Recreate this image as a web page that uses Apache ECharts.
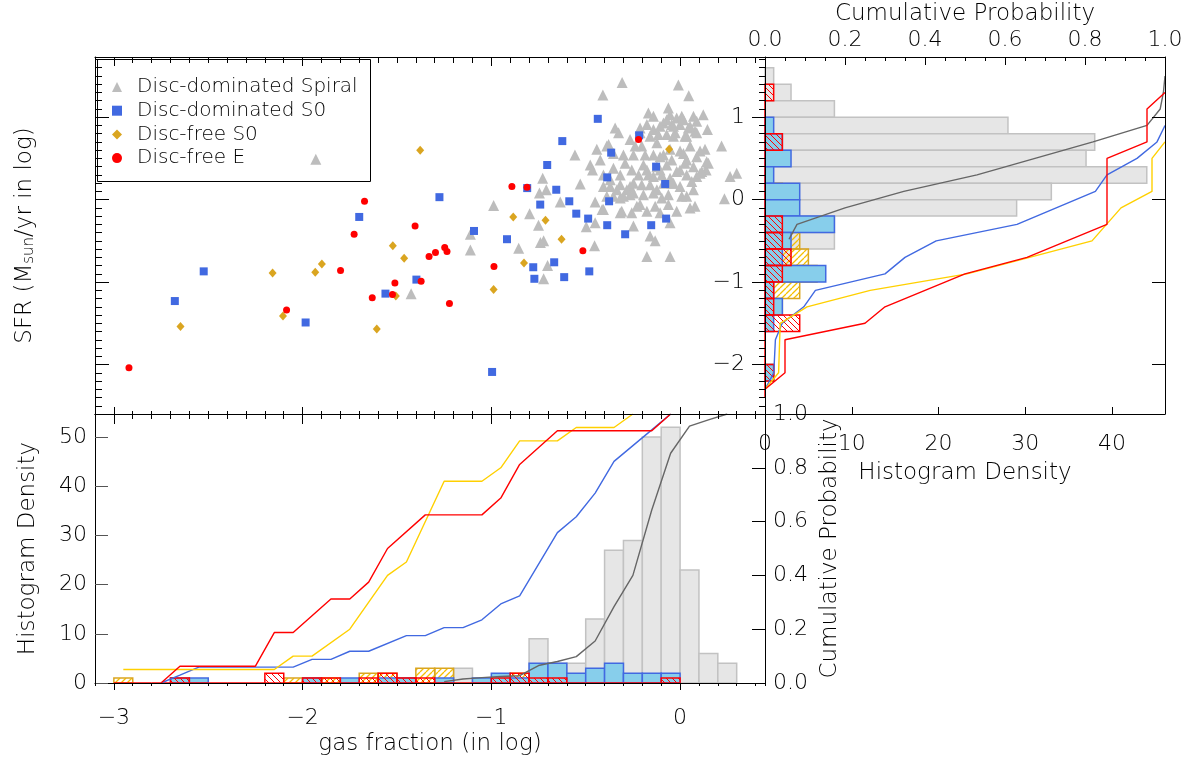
<!DOCTYPE html>
<html><head><meta charset="utf-8">
<script src="https://cdn.jsdelivr.net/npm/echarts@6/dist/echarts.min.js"></script>
<style>html,body{margin:0;padding:0;background:#fff}#c{width:1193px;height:766px}</style>
</head><body><div id="c"></div>
<script>
// ---------------- DATA ----------------
const legendNames = ['Disc-dominated Spiral', 'Disc-dominated S0', 'Disc-free S0', 'Disc-free E'];

// scatter: [log gas fraction, log SFR]
const spiralPts = [
[-1.93,0.49],[-1.425,-1.14],
[-1.111,-0.42],[-1.111,-0.61],[-0.988,-0.07],[-0.855,-0.59],[-0.797,-0.17],[-0.75,-0.31],[-0.745,0.08],[-0.728,0.26],[-0.709,0.12],[-0.74,-0.52],[-0.723,-0.50],[-0.723,-0.96],[-0.702,-0.80],[-0.635,-0.03],[-0.557,0.54],[-0.529,0.19],[-0.497,-0.33],[-0.453,-0.56],[-0.45,-0.03],[-0.45,-0.28],[-0.441,0.61],[-0.423,0.48],[-0.476,0.42],[-0.464,0.36],[-0.413,-0.12],[-0.388,0.65],[-0.344,0.87],[-0.326,0.81],[-0.409,1.27],[-0.307,1.42],[-0.009,1.39],[0.046,1.26],[0.145,0.85],[0.22,0.65],[0.265,0.28],[0.30,0.32],[0.235,0.01],[0.132,0.61],[0.138,0.36],[0.15,0.44],[0.071,0.12],[0.053,-0.10],[0.079,-0.08],[-0.018,-0.14],[-0.053,-0.28],[-0.053,-0.69],[-0.176,-0.69],[-0.132,-0.50],[-0.159,-0.44],[-0.247,-0.32],[-0.256,-0.16],[-0.317,-0.16],[-0.353,0.04],
[-0.168,1.05],[-0.141,1.01],[-0.062,1.11],[-0.053,1.03],[-0.018,0.99],[0.009,1.01],[0.071,1.01],[0.123,1.03],[-0.176,0.91],[-0.088,0.93],[-0.044,0.91],[0.0,0.91],[0.044,0.87],[0.088,0.95],[0.079,0.83],[0.026,0.77],[-0.026,0.81],[-0.071,0.79],[-0.115,0.79],[-0.159,0.77],[-0.212,0.87],[-0.265,0.73],[-0.238,0.65],[-0.379,0.67],[-0.353,0.56],[-0.30,0.54],[-0.247,0.54],[-0.185,0.54],[-0.141,0.54],[-0.088,0.54],[-0.044,0.48],[0.0,0.59],[0.053,0.65],[0.106,0.59],[0.141,0.46],[0.115,0.34],[0.071,0.40],[0.026,0.44],[-0.018,0.34],[-0.071,0.42],[-0.123,0.40],[-0.194,0.42],[-0.22,0.30],[-0.168,0.30],[-0.097,0.30],[-0.053,0.26],[0.035,0.30],[0.088,0.28],[-0.353,0.38],[-0.317,0.30],[-0.291,0.44],[-0.406,0.30],[-0.256,0.36],[0.062,0.22],
[-0.37,0.16],[-0.317,0.18],[-0.265,0.16],[-0.203,0.18],[-0.159,0.18],[-0.123,0.12],[-0.044,0.20],[-0.388,0.04],[-0.317,0.02],[-0.265,0.06],[-0.194,0.06],[-0.141,0.08],[-0.097,0.02],[-0.062,0.06],[0.009,0.04],[-0.406,-0.12],[-0.309,-0.14],[-0.212,-0.06],[-0.176,-0.14],[-0.132,-0.08],[-0.106,-0.16],[-0.062,-0.06],
[-0.212,0.81],[-0.141,0.85],[-0.071,0.97],[0.018,0.97],[0.053,0.89],[0.088,0.81],[-0.106,0.89],[-0.035,0.89],[0.035,0.77],[-0.123,0.69],[0.018,0.56],[0.088,0.52],[0.0,0.36],[-0.035,0.20],[0.0,0.16],[0.035,0.04],[0.106,0.32],[-0.406,0.16],[-0.335,0.12],[-0.282,0.12],[-0.37,0.24],[-0.30,0.04],[-0.247,0.08],[-0.247,0.20],[-0.229,-0.08],[-0.141,0.28],[-0.106,0.36],[-0.088,0.20],[-0.176,0.36],[-0.203,0.65],[-0.053,0.61],[-0.035,0.77],[-0.106,0.52],[0.035,0.48]
];
const s0DomPts = [
[-2.677,-1.23],[-2.524,-0.87],[-1.984,-1.49],[-1.70,-0.21],[-1.561,-1.14],[-1.397,-0.97],[-1.275,0.03],
[-1.092,-0.38],[-0.996,-2.09],[-0.917,-0.48],[-0.81,0.14],[-0.778,-0.82],[-0.772,-0.96],[-0.741,-0.06],[-0.704,0.42],[-0.667,-0.76],[-0.656,0.12],[-0.624,0.71],[-0.614,-0.94],[-0.587,-0.02],[-0.55,-0.17],[-0.487,-0.23],[-0.481,-0.87],[-0.436,0.98],[-0.386,0.27],[-0.386,-0.31],[-0.376,-0.02],[-0.365,0.57],[-0.291,-0.42],[-0.217,0.78],[-0.153,-0.31],[-0.127,0.40],[-0.079,0.19],[-0.074,-0.23]
];
const s0FreePts = [
[-2.647,-1.54],[-2.159,-0.89],[-2.104,-1.41],[-1.933,-0.88],[-1.898,-0.78],[-1.522,-0.56],[-1.462,-0.71],[-1.506,-1.17],[-1.607,-1.57],[-1.377,0.60],[-0.884,-0.21],[-0.713,-0.25],[-0.628,-0.48],[-0.827,-0.77],[-0.988,-1.09],[-0.058,0.61]
];
const ePts = [
[-2.92,-2.04],[-1.672,-0.02],[-1.727,-0.42],[-1.799,-0.86],[-2.085,-1.34],[-1.404,-0.32],[-1.33,-0.69],[-1.296,-0.64],[-1.247,-0.58],[-1.235,-0.63],[-1.372,-0.99],[-1.511,-1.01],[-1.524,-1.15],[-1.631,-1.19],[-1.222,-1.26],[-0.891,0.16],[-0.811,0.15],[-0.986,-0.81],[-0.515,-0.62],[-0.22,0.73]
];

// histogram of gas fraction (bins between consecutive edges)
const gasBinEdges = [-3.0,-2.9,-2.8,-2.7,-2.6,-2.5,-2.4,-2.3,-2.2,-2.1,-2.0,-1.9,-1.8,-1.7,-1.6,-1.5,-1.4,-1.3,-1.2,-1.1,-1.0,-0.9,-0.8,-0.7,-0.6,-0.5,-0.4,-0.3,-0.2,-0.1,0.0,0.1,0.2,0.3];
const gasSpiral = [0,0,0,0,0,0,0,0,0,0, 0,0,0,0,0,0,0,0,3,0, 1,1,9,4,4,13,27,29,50,52, 23,6,4];
const gasS0Dom  = [0,0,0,1,1,0,0,0,0,0, 1,0,1,0,1,1,0,1,0,1, 2,1,4,4,2,3,4,2,2,2, 0,0,0];
const gasS0Free = [1,0,0,0,0,0,0,0,0,1, 1,1,0,2,2,1,3,3,0,0, 1,2,0,0,1,0,0,1,0,0, 0,0,0];
const gasE      = [0,0,0,1,0,0,0,0,2,0, 1,1,0,1,2,1,1,0,0,0, 1,2,1,1,0,0,0,0,0,1, null,null,null];

// histogram of SFR (bins from top to bottom between consecutive edges)
const sfrBinEdges = [1.6,1.4,1.2,1.0,0.8,0.6,0.4,0.2,0.0,-0.2,-0.4,-0.6,-0.8,-1.0,-1.2,-1.4,-1.6,-1.8,-2.0,-2.2,-2.4];
const sfrSpiral = [1,3,8,28,38,37,44,33,29,8,8,3,0,0,0,0,0,0,0,0];
const sfrS0Dom  = [0,0,0,1,2,3,1,4,4,8,3,2,7,1,2,1,0,0,1,0];
const sfrS0Free = [0,0,0,0,1,0,0,2,1,1,4,5,6,4,2,0,0,0,1,0];
const sfrE      = [null,1,0,0,2,0,0,0,0,2,2,3,2,1,1,4,0,0,1,0];

// cumulative probability vs gas fraction
const cdfGasS0FreeX = [-2.95,-2.15,-2.05,-1.95,-1.75,-1.55,-1.45,-1.25,-1.05,-0.95,-0.85,-0.65,-0.55,-0.35,-0.25];
const cdfGasS0FreeY = [0.05,0.05,0.10,0.10,0.20,0.40,0.45,0.75,0.75,0.80,0.90,0.90,0.95,0.95,1.0];
const cdfGasEX = [-2.75,-2.65,-2.25,-2.15,-2.05,-1.85,-1.75,-1.65,-1.55,-1.35,-1.05,-0.95,-0.85,-0.65,-0.15,-0.05];
const cdfGasEY = [0,0.0625,0.0625,0.1875,0.1875,0.3125,0.3125,0.375,0.5,0.625,0.625,0.6875,0.8125,0.9375,0.9375,1.0];
const cdfGasS0DomX = [-2.75,-2.65,-2.55,-2.05,-1.95,-1.85,-1.75,-1.65,-1.45,-1.35,-1.25,-1.15,-1.05,-0.95,-0.85,-0.65,-0.55,-0.45,-0.35,-0.15,-0.05];
const cdfGasS0DomY = [0,0.029,0.059,0.059,0.088,0.088,0.118,0.118,0.176,0.176,0.206,0.206,0.235,0.294,0.324,0.559,0.618,0.706,0.824,0.941,1.0];
const cdfGasSpiralX = [-1.25,-1.15,-1.05,-0.95,-0.85,-0.75,-0.65,-0.55,-0.45,-0.35,-0.25,-0.15,-0.05,0.05,0.15,0.25];
const cdfGasSpiralY = [0.005,0.015,0.02,0.024,0.027,0.065,0.08,0.098,0.156,0.284,0.40,0.643,0.854,0.955,0.978,1.0];

// cumulative probability vs SFR
const cdfSfrEP = [0,0.05,0.05,0.25,0.30,0.50,0.655,0.855,0.855,0.955,0.955,1.0];
const cdfSfrEY = [-2.3,-2.1,-1.7,-1.5,-1.3,-0.9,-0.7,-0.3,0.5,0.7,1.1,1.3];
const cdfSfrS0DomP = [0,0.022,0.026,0.043,0.097,0.126,0.30,0.35,0.428,0.63,0.826,0.855,0.93,0.98,1.0];
const cdfSfrS0DomY = [-2.3,-2.1,-1.7,-1.5,-1.3,-1.1,-0.9,-0.7,-0.5,-0.3,0.1,0.3,0.5,0.7,0.9];
const cdfSfrS0FreeP = [0,0.034,0.038,0.105,0.263,0.505,0.8175,0.89,0.9675,0.9675,1.0];
const cdfSfrS0FreeY = [-2.3,-2.1,-1.5,-1.3,-1.1,-0.9,-0.5,-0.1,0.1,0.5,0.7];
const cdfSfrSpiralP = [0.06,0.08,0.2,0.347,0.53,0.675,0.82,0.955,0.988,0.996,1.0];
const cdfSfrSpiralY = [-0.48,-0.3,-0.1,0.1,0.3,0.5,0.7,0.9,1.1,1.3,1.5];

// axis tick values
const gasMajor = [-3,-2,-1,0];
const sfrMajor = [-2,-1,0,1];
const densLeftTicks = [0,10,20,30,40,50];
const densRightTicks = [0,10,20,30,40];

// ---------------- STYLE / BUILD ----------------
const FONT = "'DejaVu Sans', 'Liberation Sans', sans-serif";
const FW = 200;
const INK = '#000';
const C = {gray:'#bdbdbd', blue:'#4169e1', gold:'#daa520', red:'#ff0000', yellow:'#ffd000', dim:'#666666'};
const fmtNum = v => (v < 0 ? '\u2212' + Math.abs(v) : String(v));

function hatch(color, dir, w) {
  const s = 6, c = document.createElement('canvas');
  c.width = s; c.height = s;
  const g = c.getContext('2d');
  g.strokeStyle = color; g.lineWidth = w;
  g.beginPath();
  [-s, 0, s].forEach(k => {
    if (dir > 0) { g.moveTo(k, 0); g.lineTo(k + s, s); }
    else { g.moveTo(k, s); g.lineTo(k + s, 0); }
  });
  g.stroke();
  return {image: c, repeat: 'repeat'};
}

function mkAxis(p) {
  const a = {
    type: 'value', gridIndex: p.grid, position: p.pos, min: p.min, max: p.max,
    axisLine: {show: !!p.line, onZero: false, lineStyle: {color: '#000', width: 1}},
    splitLine: {show: false},
    z: 6
  };
  if (p.interval !== undefined) a.interval = p.interval;
  if (p.tickLen) {
    a.axisTick = {show: true, inside: p.inside !== false, length: p.tickLen,
      lineStyle: {color: p.tickColor || '#000', width: 1}};
    if (p.tickValues) a.axisTick.customValues = p.tickValues;
  } else a.axisTick = {show: false};
  if (p.labels) {
    a.axisLabel = {show: true, margin: p.margin, fontFamily: FONT, fontWeight: FW, fontSize: 22, color: INK,
      formatter: p.fmt || fmtNum};
    if (p.labelValues) a.axisLabel.customValues = p.labelValues;
  } else a.axisLabel = {show: false};
  if (p.name) {
    a.name = p.name; a.nameLocation = 'middle'; a.nameGap = p.nameGap;
    if (p.nameRotate !== undefined) a.nameRotate = p.nameRotate;
    a.nameTextStyle = {fontFamily: FONT, fontWeight: FW, fontSize: 23, color: INK};
    if (p.rich) a.nameTextStyle.rich = p.rich;
  }
  return a;
}

const GX = [-3.1, 0.45], GY = [-2.6, 1.73];

const xAxis = [
  mkAxis({grid:0, pos:'bottom', min:GX[0], max:GX[1], interval:0.1, line:true, tickLen:3}),
  mkAxis({grid:0, pos:'bottom', min:GX[0], max:GX[1], tickValues:gasMajor, tickLen:7}),
  mkAxis({grid:0, pos:'top', min:GX[0], max:GX[1], interval:0.1, line:true, tickLen:6}),
  mkAxis({grid:0, pos:'top', min:GX[0], max:GX[1], tickValues:gasMajor, tickLen:9}),
  mkAxis({grid:1, pos:'top', min:GX[0], max:GX[1], interval:0.1, line:true, tickLen:5}),
  mkAxis({grid:1, pos:'top', min:GX[0], max:GX[1], tickValues:gasMajor, tickLen:10}),
  mkAxis({grid:1, pos:'bottom', min:GX[0], max:GX[1], interval:0.1, line:true, tickLen:3, inside:false}),
  mkAxis({grid:1, pos:'bottom', min:GX[0], max:GX[1], tickValues:gasMajor, tickLen:7, inside:false,
          labels:true, labelValues:gasMajor, margin:24, name:'gas fraction (in log)', nameGap:50}),
  mkAxis({grid:2, pos:'bottom', min:0, max:46.1, tickValues:densRightTicks, tickLen:7, line:true,
          labels:true, labelValues:densRightTicks, margin:19, name:'Histogram Density', nameGap:48}),
  mkAxis({grid:2, pos:'top', min:0, max:1, interval:0.2, tickLen:8, line:true,
          labels:true, margin:6, fmt: v => v.toFixed(1), name:'Cumulative Probability', nameGap:31}),
  mkAxis({grid:2, pos:'top', min:0, max:1, interval:0.05, tickLen:4})
];
const yAxis = [
  mkAxis({grid:0, pos:'left', min:GY[0], max:GY[1], interval:0.1, line:true, tickLen:7}),
  mkAxis({grid:0, pos:'left', min:GY[0], max:GY[1], tickValues:sfrMajor, tickLen:14,
          name:'SFR (M{sub|sun}/yr in log)', nameGap:58, nameRotate:90,
          rich:{sub:{fontFamily:FONT, fontWeight:FW, fontSize:15, color:INK, verticalAlign:'bottom'}}}),
  mkAxis({grid:1, pos:'left', min:0, max:54.7, tickValues:densLeftTicks, tickLen:13, tickColor:'#555', line:true,
          labels:true, labelValues:densLeftTicks, margin:8, name:'Histogram Density', nameGap:55, nameRotate:90}),
  mkAxis({grid:1, pos:'right', min:0, max:1, interval:0.2, tickLen:13, line:true,
          labels:true, margin:8, fmt: v => v.toFixed(1), name:'Cumulative Probability', nameGap:52, nameRotate:90}),
  mkAxis({grid:2, pos:'left', min:GY[0], max:GY[1], interval:0.1, line:true, tickLen:6, inside:false}),
  mkAxis({grid:2, pos:'left', min:GY[0], max:GY[1], tickValues:sfrMajor, tickLen:13, inside:false,
          labels:true, labelValues:sfrMajor, margin:20}),
  mkAxis({grid:2, pos:'right', min:GY[0], max:GY[1], tickValues:sfrMajor, tickLen:13, line:true})
];

function vHist(values, edges, keepZero) {
  const d = [];
  values.forEach((v, k) => {
    if (v === null || v === undefined) return;
    if (v === 0 && !keepZero) return;
    d.push([edges[k], edges[k + 1], v]);
  });
  return d;
}
function hHist(values, edges, keepZero) {
  const d = [];
  values.forEach((v, i) => {
    if (v === null || v === undefined) return;
    if (v === 0 && !keepZero) return;
    d.push([v, edges[i + 1], edges[i]]);
  });
  return d;
}
function vHistSeries(data, fill, stroke) {
  return {type:'custom', xAxisIndex:6, yAxisIndex:2, data, silent:true, z:3,
    renderItem: (params, api) => {
      const a = api.coord([api.value(0), api.value(2)]);
      const b = api.coord([api.value(1), 0]);
      return {type:'rect', shape:{x:a[0], y:a[1], width:b[0]-a[0], height:b[1]-a[1]},
              style:{fill, stroke, lineWidth:1.5}};
    }};
}
function hHistSeries(data, fill, stroke) {
  return {type:'custom', xAxisIndex:8, yAxisIndex:4, data, silent:true, z:3,
    renderItem: (params, api) => {
      const a = api.coord([0, api.value(2)]);
      const b = api.coord([api.value(0), api.value(1)]);
      return {type:'rect', shape:{x:a[0], y:a[1], width:b[0]-a[0], height:b[1]-a[1]},
              style:{fill, stroke, lineWidth:1.5}};
    }};
}
function zip(a, b) { return a.map((v, i) => [v, b[i]]); }
function lineS(xi, yi, data, color) {
  return {type:'line', xAxisIndex:xi, yAxisIndex:yi, data, showSymbol:false, symbol:'none',
    lineStyle:{color, width:1.4}, silent:true, z:4, animation:false};
}

const redHatch = hatch(C.red, 1, 1), goldHatch = hatch('#f5c000', -1, 1.3);

const series = [
  {name:legendNames[0], type:'scatter', xAxisIndex:0, yAxisIndex:0, data:spiralPts, symbol:'triangle', symbolSize:11, itemStyle:{color:C.gray, opacity:1}, z:2},
  {name:legendNames[1], type:'scatter', xAxisIndex:0, yAxisIndex:0, data:s0DomPts, symbol:'rect', symbolSize:8, itemStyle:{color:C.blue, opacity:1}, z:2},
  {name:legendNames[2], type:'scatter', xAxisIndex:0, yAxisIndex:0, data:s0FreePts, symbol:'diamond', symbolSize:[8,9], itemStyle:{color:C.gold, opacity:1}, z:2},
  {name:legendNames[3], type:'scatter', xAxisIndex:0, yAxisIndex:0, data:ePts, symbol:'circle', symbolSize:7, itemStyle:{color:C.red, opacity:1}, z:2},

  vHistSeries(vHist(gasSpiral, gasBinEdges), '#e6e6e6', '#c2c2c2'),
  vHistSeries(vHist(gasS0Free, gasBinEdges), goldHatch, C.gold),
  vHistSeries(vHist(gasS0Dom, gasBinEdges), '#87ceeb', C.blue),
  vHistSeries(vHist(gasE, gasBinEdges, true), redHatch, C.red),

  lineS(6, 3, zip(cdfGasSpiralX, cdfGasSpiralY), C.dim),
  lineS(6, 3, zip(cdfGasS0DomX, cdfGasS0DomY), C.blue),
  lineS(6, 3, zip(cdfGasS0FreeX, cdfGasS0FreeY), C.yellow),
  lineS(6, 3, zip(cdfGasEX, cdfGasEY), C.red),

  hHistSeries(hHist(sfrSpiral, sfrBinEdges), '#e6e6e6', '#c2c2c2'),
  hHistSeries(hHist(sfrS0Free, sfrBinEdges), goldHatch, C.gold),
  hHistSeries(hHist(sfrS0Dom, sfrBinEdges), '#87ceeb', C.blue),
  hHistSeries(hHist(sfrE, sfrBinEdges, true), redHatch, C.red),

  lineS(9, 4, zip(cdfSfrSpiralP, cdfSfrSpiralY), C.dim),
  lineS(9, 4, zip(cdfSfrS0DomP, cdfSfrS0DomY), C.blue),
  lineS(9, 4, zip(cdfSfrS0FreeP, cdfSfrS0FreeY), C.yellow),
  lineS(9, 4, zip(cdfSfrEP, cdfSfrEY), C.red)
];

const chart = echarts.init(document.getElementById('c'), null, {renderer:'canvas'});
chart.setOption({
  animation: false,
  backgroundColor: '#fff',
  grid: [
    {left:95, top:57, width:670, height:357, containLabel:false, outerBoundsMode:'none'},
    {left:95, top:414, width:670, height:269, containLabel:false, outerBoundsMode:'none'},
    {left:765, top:57, width:400, height:357, containLabel:false, outerBoundsMode:'none'}
  ],
  xAxis, yAxis, series,
  legend: {
    data: legendNames, orient:'vertical', left:112, top:77, padding:0, itemGap:3.7,
    itemWidth:10, itemHeight:10, selectedMode:false,
    textStyle:{fontFamily:FONT, fontWeight:FW, fontSize:20, color:INK, padding:[0,0,0,10]}
  },
  graphic: [{type:'rect', left:95, top:57, shape:{width:273, height:122}, style:{fill:'none', stroke:'#000', lineWidth:1}, z:10, silent:true}]
});
</script></body></html>
